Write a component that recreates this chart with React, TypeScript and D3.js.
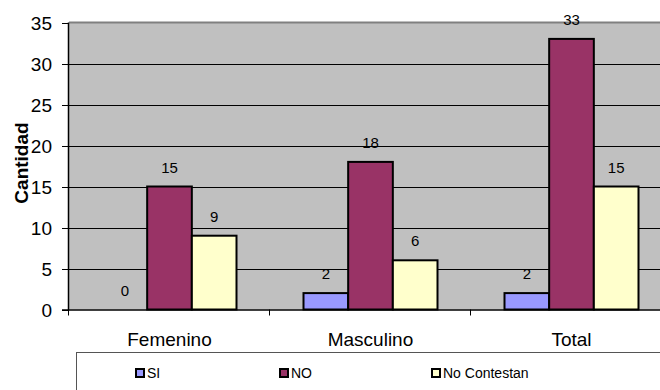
import React from "react";
import * as d3 from "d3";

const categories = ["Femenino", "Masculino", "Total"];
const seriesNames = ["SI", "NO", "No Contestan"];
const siValues = [0, 2, 2];
const noValues = [15, 18, 33];
const noContestanValues = [9, 6, 15];
const yTicks = [0, 5, 10, 15, 20, 25, 30, 35];
const seriesColors = ["#9999FF", "#993366", "#FFFFCC"];

const W = 660;
const H = 390;
const plot = { left: 69, right: 672, top: 22.5, bottom: 309.5 };
const font = "'Liberation Sans', Arial, sans-serif";

export default function App() {
  const series = [siValues, noValues, noContestanValues];

  const x = d3
    .scaleBand<string>()
    .domain(categories)
    .range([plot.left, plot.right])
    .paddingInner(0)
    .paddingOuter(0);

  const y = d3.scaleLinear().domain([0, 35]).range([plot.bottom, plot.top]);

  // Excel-style clustered columns: 150% gap width
  const band = x.bandwidth();
  const barW = band / (series.length + 1.5);
  const groupOffset = (band - barW * series.length) / 2;

  return (
    <svg
      width={W}
      height={H}
      style={{ position: "absolute", left: 0, top: 0, background: "#fff" }}
      fontFamily={font}
    >
      <defs>
        <clipPath id="clipAll">
          <rect x={0} y={0} width={W} height={H} />
        </clipPath>
      </defs>
      <g clipPath="url(#clipAll)">
        {/* plot area */}
        <rect
          x={plot.left}
          y={plot.top}
          width={plot.right - plot.left}
          height={plot.bottom - plot.top}
          fill="#C0C0C0"
        />
        {/* gridlines */}
        {yTicks.slice(1, -1).map((t) => (
          <line
            key={"g" + t}
            x1={plot.left}
            x2={plot.right}
            y1={Math.round(y(t)) + 0.5}
            y2={Math.round(y(t)) + 0.5}
            stroke="#000"
            strokeWidth={1}
          />
        ))}
        <line
          x1={plot.left}
          x2={plot.right}
          y1={plot.top}
          y2={plot.top}
          stroke="#808080"
          strokeWidth={2}
        />

        {/* bars */}
        {series.map((vals, si) =>
          categories.map((c, ci) => {
            const v = vals[ci];
            const x0 = (x(c) as number) + groupOffset + si * barW;
            const y0 = y(v);
            return (
              <g key={si + "-" + ci}>
                {v > 0 && (
                  <rect
                    x={x0}
                    y={y0}
                    width={barW}
                    height={plot.bottom - y0}
                    fill={seriesColors[si]}
                    stroke="#000"
                    strokeWidth={2}
                  />
                )}
                <text
                  x={x0 + barW / 2}
                  y={y0 - 14}
                  textAnchor="middle"
                  fontSize={15}
                  fill="#000"
                >
                  {v}
                </text>
              </g>
            );
          })
        )}

        {/* y axis */}
        <line
          x1={plot.left - 0.5}
          x2={plot.left - 0.5}
          y1={plot.top}
          y2={plot.bottom + 1}
          stroke="#000"
          strokeWidth={1.5}
        />
        {yTicks.map((t) => (
          <g key={"t" + t}>
            <line
              x1={plot.left - 7}
              x2={plot.left}
              y1={Math.round(y(t)) + 0.5}
              y2={Math.round(y(t)) + 0.5}
              stroke="#000"
              strokeWidth={1}
            />
            <text
              x={52}
              y={y(t) + 7}
              textAnchor="end"
              fontSize={19}
              fill="#000"
            >
              {t}
            </text>
          </g>
        ))}

        {/* x axis */}
        <line
          x1={plot.left - 7}
          x2={plot.right}
          y1={plot.bottom + 0.5}
          y2={plot.bottom + 0.5}
          stroke="#000"
          strokeWidth={1.5}
        />
        {categories.map((c, i) => (
          <line
            key={"xt" + c}
            x1={(x(c) as number) - 0.5 + (i === 0 ? 0 : 0)}
            x2={(x(c) as number) - 0.5}
            y1={plot.bottom}
            y2={plot.bottom + 6}
            stroke="#000"
            strokeWidth={1}
          />
        ))}
        {categories.map((c) => (
          <text
            key={"xl" + c}
            x={(x(c) as number) + band / 2}
            y={346}
            textAnchor="middle"
            fontSize={19}
            fill="#000"
          >
            {c}
          </text>
        ))}

        {/* y axis title */}
        <text
          transform="translate(28,163) rotate(-90)"
          textAnchor="middle"
          fontSize={19}
          fontWeight="bold"
          fill="#000"
        >
          Cantidad
        </text>

        {/* legend */}
        <rect
          x={76.5}
          y={352.5}
          width={640}
          height={60}
          fill="#fff"
          stroke="#555"
          strokeWidth={1}
        />
        {seriesNames.map((name, i) => {
          const lx = [135, 279, 431][i];
          return (
            <g key={"lg" + name}>
              <rect
                x={lx + 1}
                y={369}
                width={8}
                height={8}
                fill={seriesColors[i]}
                stroke="#000"
                strokeWidth={2}
              />
              <text x={lx + 12} y={378} fontSize={14} fill="#000">
                {name}
              </text>
            </g>
          );
        })}
      </g>
    </svg>
  );
}
